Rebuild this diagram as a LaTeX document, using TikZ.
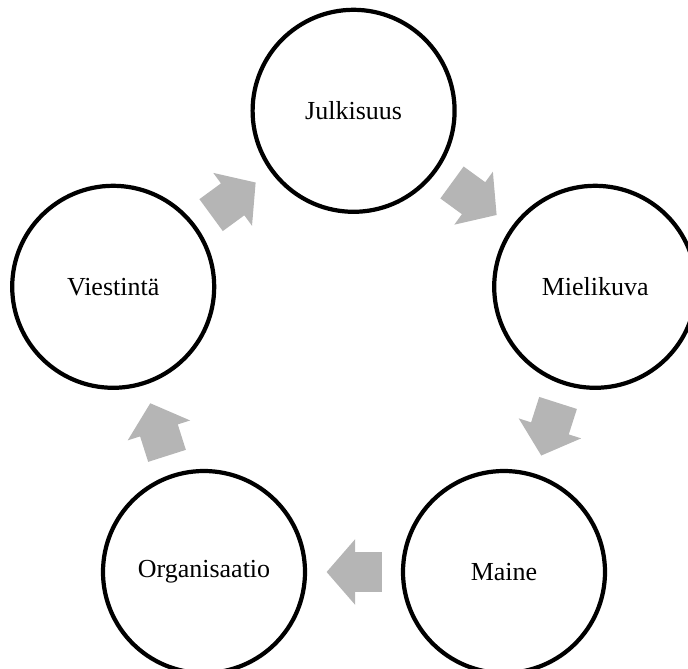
\documentclass[tikz,border=0pt]{standalone}
\usepackage{fontspec}
\setmainfont{Liberation Serif}
\usepackage{tikz-network}
\usetikzlibrary{shapes.arrows}

\definecolor{flowgray}{RGB}{181,181,181}
\tikzset{
  flow/.style={single arrow, fill=flowgray, draw=none,
    inner xsep=0pt, inner ysep=0.4875cm,
    minimum height=1.38cm,
    single arrow head extend=0.325cm, single arrow tip angle=98,
    pos=0.41, sloped, allow upside down}
}

\begin{document}
\begin{tikzpicture}
\useasboundingbox (0,0) rectangle (17.2,16.7);
\clip (0,0) rectangle (17.2,16.7);
\SetVertexStyle[FillColor=white, LineColor=black, LineWidth=3pt, TextFont=\fontsize{18.5}{22}\selectfont]
\Vertex[label=Julkisuus, x=8.84, y=13.93, size=5.05]{j}
\Vertex[label=Mielikuva, x=14.88, y=9.53, size=5.05]{m}
\Vertex[label=Maine, x=12.6, y=2.4, size=5.05]{ma}
\Vertex[label=Organisaatio, x=5.1, y=2.4, size=5.05]{o}
\Vertex[label=Viestintä, x=2.83, y=9.53, size=5.05]{v}
% block arrows between the circles
\path (j) -- node[flow] (jm) {} (m);
\path (m) -- node[flow] (mma) {} (ma);
\path (ma) -- node[flow] (mao) {} (o);
\path (o) -- node[flow] (ov) {} (v);
\path (v) -- node[flow] (vj) {} (j);
\end{tikzpicture}
\end{document}
